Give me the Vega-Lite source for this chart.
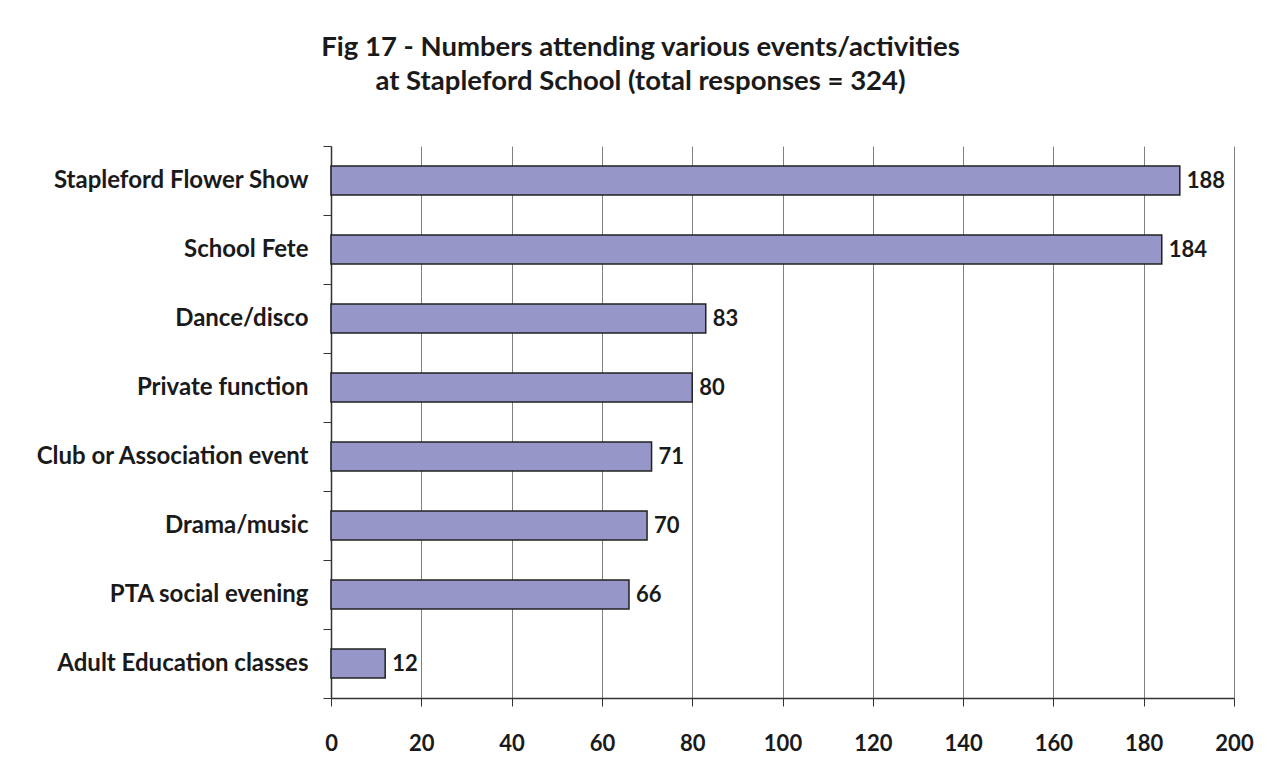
{
  "$schema": "https://vega.github.io/schema/vega-lite/v6.json",
  "width": 903,
  "height": 552,
  "autosize": {"type": "none"},
  "padding": {"left": 331, "top": 146, "right": 33, "bottom": 82},
  "background": "white",
  "title": {
    "text": ["Fig 17 - Numbers attending various events/activities", "at Stapleford School (total responses = 324)"],
    "font": "Lato",
    "fontSize": 27.5,
    "fontWeight": "bold",
    "color": "#1a1a1a",
    "anchor": "middle",
    "frame": "group",
    "dx": -142,
    "offset": 39,
    "lineHeight": 34
  },
  "config": {
    "view": {"stroke": null},
    "axis": {"labelFont": "Lato", "labelFontWeight": "bold", "labelFontSize": 22, "labelColor": "#1a1a1a", "labelLimit": 0}
  },
  "data": {
    "values": [
      {"event": "Stapleford Flower Show", "n": 188},
      {"event": "School Fete", "n": 184},
      {"event": "Dance/disco", "n": 83},
      {"event": "Private function", "n": 80},
      {"event": "Club or Association event", "n": 71},
      {"event": "Drama/music", "n": 70},
      {"event": "PTA social evening", "n": 66},
      {"event": "Adult Education classes", "n": 12}
    ]
  },
  "encoding": {
    "y": {
      "field": "event",
      "type": "nominal",
      "sort": null,
      "title": null,
      "scale": {"paddingInner": 0, "paddingOuter": 0},
      "axis": {
        "tickBand": "extent",
        "tickSize": 8,
        "tickColor": "#333333",
        "domainColor": "#333333",
        "domainWidth": 1.5,
        "labelPadding": 15,
        "labelFontSize": 24,
        "grid": false
      }
    },
    "x": {
      "field": "n",
      "type": "quantitative",
      "title": null,
      "scale": {"domain": [0, 200], "nice": false},
      "axis": {
        "values": [0, 20, 40, 60, 80, 100, 120, 140, 160, 180, 200],
        "tickSize": 8,
        "tickColor": "#333333",
        "domainColor": "#333333",
        "domainWidth": 1.5,
        "labelPadding": 27,
        "grid": true,
        "gridColor": "#808080",
        "gridWidth": 1,
        "gridOpacity": 1,
        "labelFlush": false
      }
    }
  },
  "layer": [
    {
      "mark": {"type": "bar", "height": {"band": 0.417}, "color": "#9696C8", "stroke": "#222222", "strokeWidth": 1.5}
    },
    {
      "mark": {"type": "text", "align": "left", "baseline": "middle", "dx": 7, "font": "Lato", "fontWeight": "bold", "fontSize": 22, "color": "#1a1a1a"},
      "encoding": {"text": {"field": "n", "type": "quantitative"}}
    }
  ]
}
